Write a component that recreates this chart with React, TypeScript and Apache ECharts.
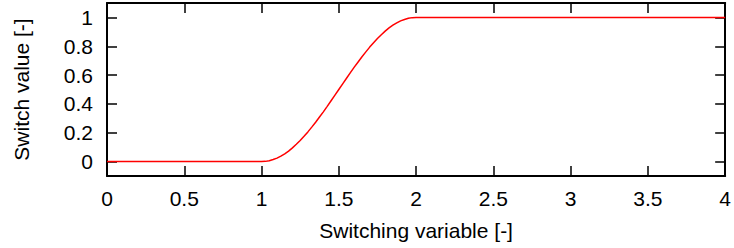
import React, { useEffect, useRef } from "react";
import * as echarts from "echarts";

const xValues = [
  0, 1.0, 1.025, 1.05, 1.075, 1.1, 1.125, 1.15, 1.175, 1.2, 1.225, 1.25, 1.275, 1.3, 1.325, 1.35, 1.375, 1.4, 1.425, 1.45, 1.475,
  1.5, 1.525, 1.55, 1.575, 1.6, 1.625, 1.65, 1.675, 1.7, 1.725, 1.75, 1.775, 1.8, 1.825, 1.85, 1.875, 1.9, 1.925, 1.95, 1.975, 2.0, 4,
];
const yValues = [
  0, 0, 0.0015, 0.006, 0.014, 0.024, 0.038, 0.054, 0.073, 0.095, 0.12, 0.146, 0.175, 0.206, 0.239, 0.273, 0.309, 0.345, 0.383, 0.422, 0.461,
  0.5, 0.539, 0.578, 0.617, 0.655, 0.691, 0.727, 0.761, 0.794, 0.825, 0.854, 0.88, 0.905, 0.927, 0.946, 0.962, 0.976, 0.986, 0.994, 0.9985, 1, 1,
];
const xTicks = [0, 0.5, 1, 1.5, 2, 2.5, 3, 3.5, 4];
const yTicks = [0, 0.2, 0.4, 0.6, 0.8, 1];

const FONT = "'Liberation Sans', Arial, Helvetica, sans-serif";

export default function App() {
  const ref = useRef<HTMLDivElement>(null);
  useEffect(() => {
    if (!ref.current) return;
    const chart = echarts.init(ref.current, null, { renderer: "svg" });
    const axisLine = { show: true, onZero: false, lineStyle: { color: "#000", width: 2 } };
    const tick = { show: true, inside: true, length: 10, lineStyle: { color: "#000", width: 1.5 } };
    chart.setOption({
      animation: false,
      backgroundColor: "#fff",
      grid: { left: 107, right: 8, top: 3, bottom: 72, containLabel: false },
      xAxis: [
        {
          type: "value",
          min: 0,
          max: 4,
          interval: 0.5,
          position: "bottom",
          name: "Switching variable [-]",
          nameLocation: "middle",
          nameGap: 44,
          nameTextStyle: { color: "#000", fontSize: 21, fontFamily: FONT },
          axisLine,
          axisTick: { ...tick, customValues: xTicks },
          axisLabel: { color: "#000", fontSize: 21, fontFamily: FONT, margin: 12, customValues: xTicks },
          splitLine: { show: false },
        },
        {
          type: "value",
          min: 0,
          max: 4,
          interval: 0.5,
          position: "top",
          axisLine,
          axisTick: { ...tick, customValues: xTicks },
          axisLabel: { show: false },
          splitLine: { show: false },
        },
      ],
      yAxis: [
        {
          type: "value",
          min: -0.1,
          max: 1.1,
          position: "left",
          name: "Switch value [-]",
          nameLocation: "middle",
          nameGap: 75,
          nameRotate: 90,
          nameTextStyle: { color: "#000", fontSize: 21, fontFamily: FONT },
          axisLine,
          axisTick: { ...tick, customValues: yTicks },
          axisLabel: { color: "#000", fontSize: 21, fontFamily: FONT, margin: 14, customValues: yTicks },
          splitLine: { show: false },
        },
        {
          type: "value",
          min: -0.1,
          max: 1.1,
          position: "right",
          axisLine,
          axisTick: { ...tick, customValues: yTicks },
          axisLabel: { show: false },
          splitLine: { show: false },
        },
      ],
      series: [
        {
          type: "line",
          xAxisIndex: 0,
          yAxisIndex: 0,
          data: xValues.map((x, i) => [x, yValues[i]]),
          smooth: false,
          showSymbol: false,
          lineStyle: { color: "#ff0000", width: 1.5 },
        },
      ],
    });
    return () => chart.dispose();
  }, []);
  return <div ref={ref} style={{ position: "fixed", left: 0, top: 0, width: 734, height: 248 }} />;
}
